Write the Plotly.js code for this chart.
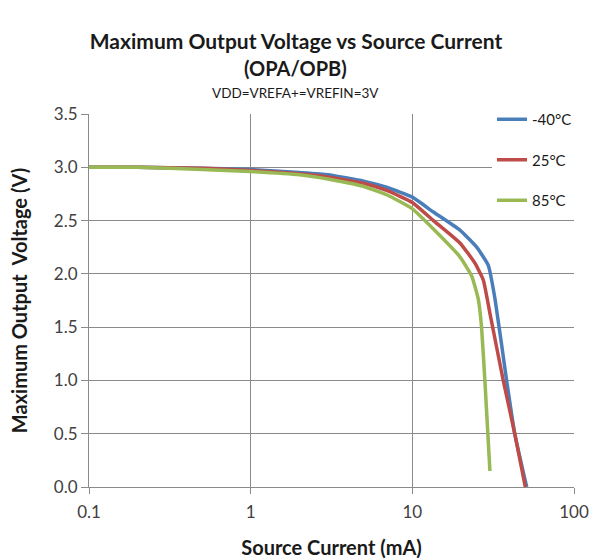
<!DOCTYPE html>
<html>
<head>
<meta charset="utf-8">
<script src="https://cdn.plot.ly/plotly-3.0.1.min.js"></script>
<style>html,body{margin:0;padding:0;background:#fff;}#chart{width:592px;height:559px;}</style>
</head>
<body>
<div id="chart"></div>
<script>
// Source current (mA) and maximum output voltage (V)
const currentBlue = [0.1, 0.2, 0.5, 1, 2, 3, 5, 7, 10, 13.5, 19.7, 25, 29.5, 32.5, 38.3, 43, 51];
const voltBlue    = [3.0, 3.0, 2.99, 2.98, 2.95, 2.93, 2.87, 2.81, 2.72, 2.58, 2.41, 2.25, 2.08, 1.76, 1.0, 0.5, 0.0];

const currentRed = [0.1, 0.2, 0.5, 1, 2, 3, 5, 7, 10, 13.5, 19.7, 24.4, 27.5, 30.2, 36.5, 43, 50];
const voltRed    = [3.0, 3.0, 2.99, 2.97, 2.94, 2.91, 2.85, 2.78, 2.67, 2.50, 2.29, 2.10, 1.94, 1.63, 1.0, 0.5, 0.0];

const currentGreen = [0.1, 0.2, 0.5, 1, 2, 3, 5, 7, 10, 14.8, 19.7, 23.3, 25.6, 26.8, 28.1, 30.2];
const voltGreen    = [3.0, 3.0, 2.98, 2.96, 2.93, 2.89, 2.82, 2.74, 2.61, 2.36, 2.16, 1.98, 1.76, 1.50, 1.0, 0.15];

const seriesNames = ['-40°C', '25°C', '85°C'];
const xTickVals = [0.1, 1, 10, 100];
const xTickText = ['0.1', '1', '10', '100'];
const yTickVals = [0, 0.5, 1, 1.5, 2, 2.5, 3, 3.5];
const yTickText = ['0.0', '0.5', '1.0', '1.5', '2.0', '2.5', '3.0', '3.5'];

const FONT = 'Lato, "Open Sans", sans-serif';
const colors = ['#4A7EBB', '#BE4B48', '#98B954'];
const xs = [currentBlue, currentRed, currentGreen];
const ys = [voltBlue, voltRed, voltGreen];

const traces = seriesNames.map((n, i) => ({
  x: xs[i], y: ys[i], name: n, type: 'scatter', mode: 'lines',
  legendgroup: 'g' + i,
  line: {color: colors[i], width: 3.5, shape: 'spline', smoothing: 0.4}
}));

const PL = 89, PR = 574, PT = 114, PB = 487;
const PW = PR - PL, PH = PB - PT;

const layout = {
  width: 592, height: 559,
  margin: {l: PL, r: 592 - PR, t: PT, b: 559 - PB},
  paper_bgcolor: '#fff', plot_bgcolor: '#fff',
  font: {family: FONT, color: '#404040', size: 13},
  title: {
    text: '<b>Maximum Output Voltage vs Source Current</b>',
    font: {family: FONT, size: 21, color: '#1a1a1a'},
    x: 0.5, xref: 'container', xanchor: 'center', y: 1 - 42 / 559, yanchor: 'middle'
  },
  annotations: [
    {text: '<b>(OPA/OPB)</b>', xref: 'paper', yref: 'paper', x: (295 - PL) / PW, y: (PB - 68) / PH,
     xanchor: 'center', yanchor: 'middle', showarrow: false, font: {family: FONT, size: 20, color: '#1a1a1a'}},
    {text: 'VDD=VREFA+=VREFIN=3V', xref: 'paper', yref: 'paper', x: (295 - PL) / PW, y: (PB - 93) / PH,
     xanchor: 'center', yanchor: 'middle', showarrow: false, font: {family: FONT, size: 13.5, color: '#1a1a1a'}}
  ],
  xaxis: {
    type: 'log', range: [-1, 2], automargin: false,
    tickvals: xTickVals, ticktext: xTickText,
    showgrid: true, gridcolor: '#8a8a8a', gridwidth: 1,
    showline: true, linecolor: '#8a8a8a', linewidth: 1,
    ticks: 'outside', ticklen: 6, tickcolor: '#8a8a8a', ticklabelstandoff: 4,
    tickfont: {family: FONT, size: 17, color: '#404040'},
    zeroline: false,
    title: {text: '<b>Source Current (mA)</b>', font: {family: FONT, size: 20, color: '#1a1a1a'}, standoff: 22}
  },
  yaxis: {
    range: [0, 3.5], automargin: false,
    tickvals: yTickVals, ticktext: yTickText,
    showgrid: true, gridcolor: '#8a8a8a', gridwidth: 1,
    showline: true, linecolor: '#8a8a8a', linewidth: 1,
    ticks: 'outside', ticklen: 7, tickcolor: '#8a8a8a',
    tickfont: {family: FONT, size: 17, color: '#404040'},
    zeroline: false,
    title: {text: '<b>Maximum Output&nbsp; Voltage (V)</b>', font: {family: FONT, size: 20, color: '#1a1a1a'}, standoff: 20}
  },
  showlegend: true,
  legend: {
    x: (492 - PL) / PW, y: (PB - 103) / PH, xanchor: 'left', yanchor: 'top',
    bgcolor: '#ffffff', borderwidth: 0,
    font: {family: FONT, size: 15, color: '#1a1a1a'},
    tracegroupgap: 18, itemwidth: 30
  }
};

Plotly.newPlot('chart', traces, layout, {displayModeBar: false, staticPlot: true});
</script>
</body>
</html>
